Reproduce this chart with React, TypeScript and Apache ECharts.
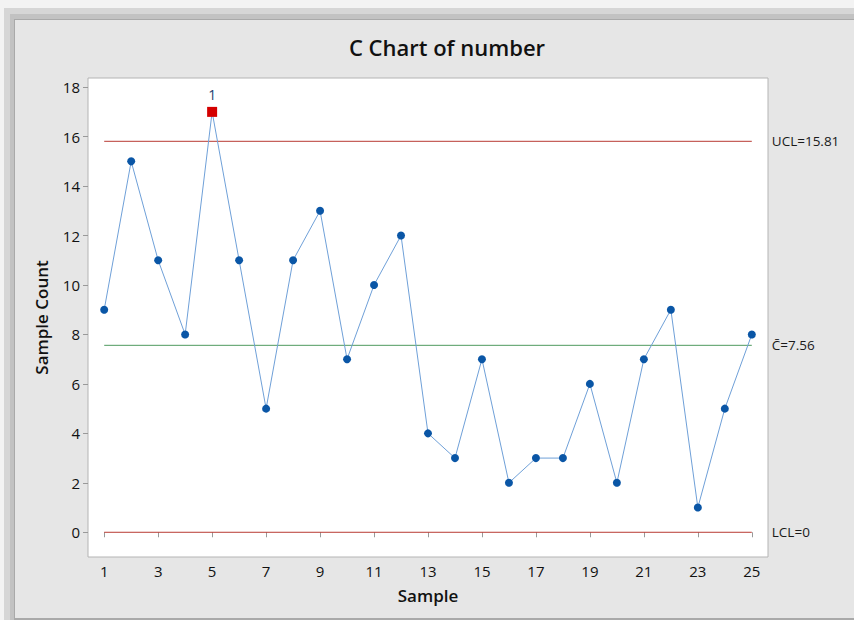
import React, { useEffect, useRef } from "react";
import * as echarts from "echarts";

const samples = [1,2,3,4,5,6,7,8,9,10,11,12,13,14,15,16,17,18,19,20,21,22,23,24,25];
const counts = [9,15,11,8,17,11,5,11,13,7,10,12,4,3,7,2,3,3,6,2,7,9,1,5,8];
const UCL = 15.81;
const CL = 7.56;
const LCL = 0;
const xTicks = [1,3,5,7,9,11,13,15,17,19,21,23,25];
const yTicks = [0,2,4,6,8,10,12,14,16,18];
const outOfControl = [5];

const FONT = "'Open Sans', 'Noto Sans', sans-serif";

export default function App() {
  const ref = useRef<HTMLDivElement>(null);
  useEffect(() => {
    if (!ref.current) return;
    const chart = echarts.init(ref.current, null, { renderer: "svg" });
    const normal = samples.map((s, i) => [s, counts[i]]).filter((d) => !outOfControl.includes(d[0] as number));
    const bad = samples.map((s, i) => [s, counts[i]]).filter((d) => outOfControl.includes(d[0] as number));
    const first = samples[0];
    const last = samples[samples.length - 1];
    const limitLine = (name: string, v: number, color: string, label: string) => ({
      type: "line",
      name,
      data: [[first, v], [last, v]],
      symbol: "none",
      lineStyle: { color, width: 1 },
      z: 1,
      endLabel: {
        show: true,
        formatter: label,
        distance: 20,
        color: "#1a1a1a",
        fontSize: 13.5,
        fontFamily: FONT,
      },
      silent: true,
    });
    chart.setOption({
      animation: false,
      backgroundColor: "#f3f3f3",
      graphic: [
        { type: "rect", shape: { x: 0, y: 0, width: 854, height: 620 }, style: { fill: "#f3f3f3" }, z: -10 },
        { type: "rect", shape: { x: 4, y: 8, width: 850, height: 612 }, style: { fill: "#d6d6d6" }, z: -9 },
        { type: "rect", shape: { x: 10, y: 14, width: 844, height: 606 }, style: { fill: "#c2c2c2" }, z: -8 },
        { type: "rect", shape: { x: 14, y: 19, width: 840, height: 601 }, style: { fill: "#a9a9a9" }, z: -7 },
        { type: "rect", shape: { x: 15, y: 20, width: 839, height: 598 }, style: { fill: "#e6e6e6" }, z: -6 },
        { type: "rect", shape: { x: 88, y: 78, width: 680, height: 479 }, style: { fill: "#ffffff", stroke: "#b4b4b4", lineWidth: 1 }, z: -5 },
      ],
      title: {
        text: "C Chart of number",
        left: 442,
        top: 31,
        textAlign: "center",
        textStyle: { fontFamily: FONT, fontSize: 22, fontWeight: 600, color: "#111" },
      },
      grid: { left: 88, top: 78, width: 680, height: 479, show: false },
      xAxis: {
        type: "value",
        min: 0.4,
        max: 25.6,
        name: "Sample",
        nameLocation: "middle",
        nameGap: 30,
        nameTextStyle: { fontFamily: FONT, fontSize: 17, fontWeight: 600, color: "#111" },
        axisLine: { show: false },
        splitLine: { show: false },
        axisTick: { show: true, customValues: xTicks, length: 5, lineStyle: { color: "#999" } },
        axisLabel: { customValues: xTicks, fontFamily: FONT, fontSize: 15, fontWeight: 500, color: "#111", margin: 6 },
      },
      yAxis: {
        type: "value",
        min: -1,
        max: 18.37,
        name: "Sample Count",
        nameLocation: "middle",
        nameGap: 38,
        nameTextStyle: { fontFamily: FONT, fontSize: 17, fontWeight: 600, color: "#111" },
        axisLine: { show: false },
        splitLine: { show: false },
        axisTick: { show: true, customValues: yTicks, length: 5, lineStyle: { color: "#999" } },
        axisLabel: { customValues: yTicks, fontFamily: FONT, fontSize: 15, fontWeight: 500, color: "#111", margin: 8 },
      },
      series: [
        limitLine("UCL", UCL, "#b83a32", "UCL=15.81"),
        limitLine("CL", CL, "#4f9a5f", "C\u0304=7.56"),
        limitLine("LCL", LCL, "#b83a32", "LCL=0"),
        {
          type: "line",
          name: "line",
          data: samples.map((s, i) => [s, counts[i]]),
          symbol: "none",
          lineStyle: { color: "#6fa0d8", width: 1 },
          z: 2,
          silent: true,
        },
        {
          type: "scatter",
          name: "points",
          data: normal,
          symbol: "circle",
          symbolSize: 8,
          itemStyle: { color: "#0a56a6", opacity: 1 },
          z: 3,
        },
        {
          type: "scatter",
          name: "out",
          data: bad,
          symbol: "rect",
          symbolSize: 10,
          itemStyle: { color: "#d40000", opacity: 1 },
          z: 4,
          label: {
            show: true,
            position: "top",
            distance: 5,
            formatter: "1",
            fontFamily: FONT,
            fontSize: 14,
            color: "#1f3f6f",
          },
        },
      ],
    });
    return () => chart.dispose();
  }, []);
  return (
    <div
      ref={ref}
      style={{ position: "fixed", left: 0, top: 0, width: 854, height: 620 }}
    />
  );
}
